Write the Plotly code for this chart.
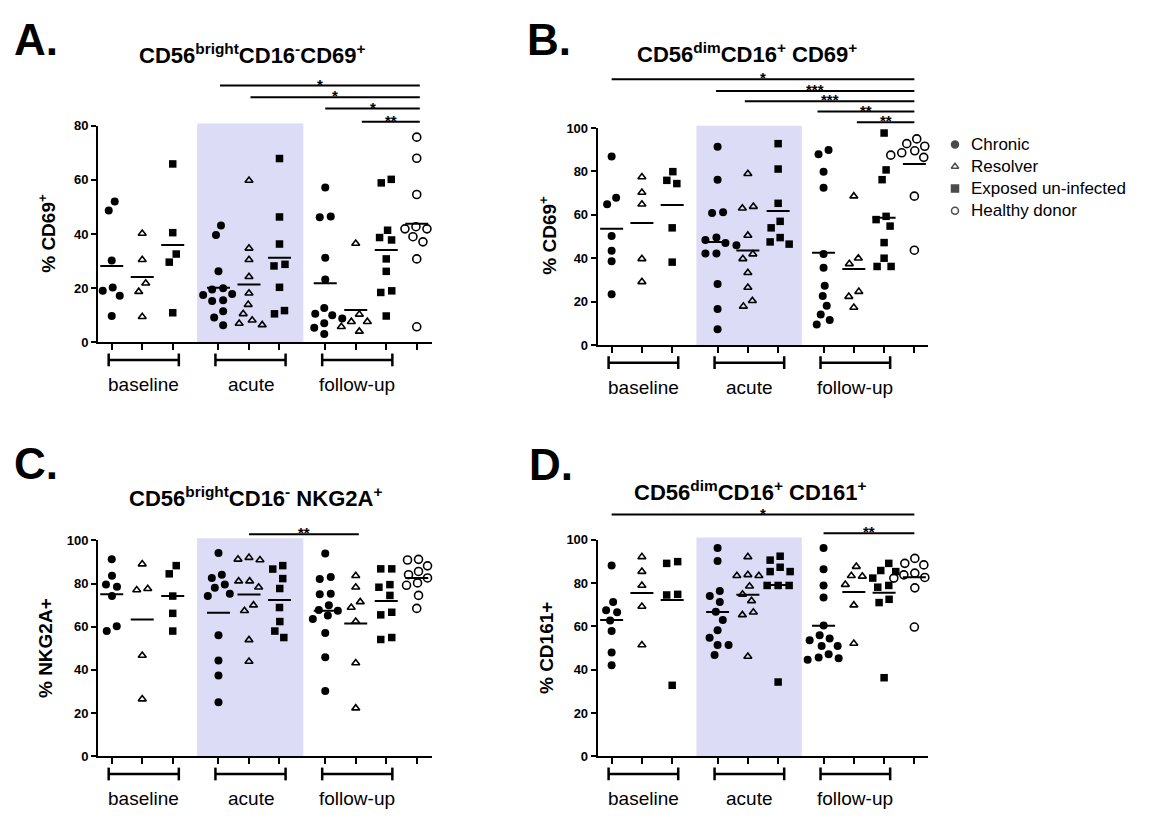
import plotly.graph_objects as go

W, H = 1156, 819

# ---------------- data ----------------
POSITIONS = [0, 1, 2, 3.5, 4.5, 5.5, 7, 8, 9, 10]
GROUP_SERIES = ["Chronic", "Resolver", "Exposed un-infected"] * 3 + ["Healthy donor"]
TIMEPOINTS = ["baseline", "acute", "follow-up"]
SERIES = ["Chronic", "Resolver", "Exposed un-infected", "Healthy donor"]

A_CD69_BRIGHT = [
    [52.0, 48.7, 30.2, 20.2, 19.0, 17.2, 9.7],
    [40.2, 30.5, 21.8, 18.7, 9.4],
    [65.9, 40.5, 32.6, 29.6, 10.9],
    [43.1, 39.6, 26.2, 20.0, 19.5, 17.8, 17.5, 15.5, 15.2, 11.5, 9.1, 6.3],
    [59.8, 34.7, 30.5, 24.2, 18.1, 13.9, 10.5, 8.1, 6.9, 6.4],
    [67.9, 46.3, 36.3, 28.8, 28.2, 20.3, 11.7, 10.5],
    [57.2, 46.5, 46.2, 31.2, 23.2, 12.7, 10.5, 10.0, 8.8, 7.0, 5.4, 3.0],
    [36.5, 10.3, 7.6, 7.6, 5.7, 4.0],
    [60.2, 58.9, 41.4, 38.7, 37.8, 30.8, 26.2, 19.0, 18.4, 9.7],
    [75.8, 68.0, 54.6, 42.7, 41.9, 41.9, 39.0, 37.1, 30.8, 5.7],
]
B_CD69_DIM = [
    [86.9, 67.9, 64.9, 50.2, 43.4, 38.6, 23.4],
    [77.4, 70.3, 64.9, 39.7, 29.1],
    [79.9, 75.9, 74.4, 54.0, 38.2],
    [91.4, 76.2, 61.2, 60.8, 49.5, 48.4, 47.0, 46.0, 42.2, 42.2, 28.1, 16.6, 7.2],
    [78.9, 63.8, 63.0, 50.5, 41.9, 39.7, 33.3, 26.5, 20.4, 17.8],
    [92.8, 81.1, 65.3, 57.0, 54.0, 49.5, 47.5, 46.5],
    [89.9, 87.9, 79.9, 72.5, 41.9, 35.6, 27.3, 22.6, 18.1, 14.0, 11.5, 9.5],
    [68.6, 40.0, 37.4, 24.6, 22.3, 17.3],
    [97.7, 80.7, 76.2, 59.3, 57.8, 54.8, 47.2, 40.0, 36.2, 36.2],
    [95.0, 92.8, 91.6, 90.5, 89.5, 88.6, 87.5, 86.5, 68.6, 43.7],
]
C_NKG2A = [
    [91.2, 83.6, 79.5, 78.5, 74.2, 60.2, 58.0],
    [89.0, 77.6, 77.0, 46.7, 26.5],
    [88.3, 84.5, 74.2, 66.2, 58.0],
    [94.2, 84.1, 82.6, 79.5, 78.0, 75.3, 74.2, 56.1, 44.4, 37.4, 25.0],
    [92.0, 91.2, 90.9, 81.1, 81.1, 78.3, 70.0, 67.4, 53.9, 43.9],
    [88.3, 86.7, 82.3, 77.7, 68.9, 62.4, 58.0, 55.0],
    [93.9, 83.0, 82.1, 75.3, 75.0, 70.0, 67.7, 67.4, 65.2, 63.6, 57.1, 45.9, 30.3],
    [83.6, 78.3, 71.5, 68.9, 62.4, 43.2, 22.3],
    [86.8, 86.8, 79.5, 78.3, 74.5, 66.7, 65.5, 55.0, 54.1],
    [91.2, 90.9, 88.2, 85.6, 84.1, 82.6, 80.3, 79.2, 74.5, 68.5],
]
D_CD161 = [
    [88.1, 71.3, 67.5, 66.5, 62.7, 57.9, 47.9, 42.0],
    [92.1, 85.3, 78.9, 69.2, 51.4],
    [89.9, 89.1, 74.8, 74.5, 32.8],
    [96.2, 90.2, 76.3, 74.0, 71.3, 66.8, 63.0, 58.2, 54.7, 51.4, 51.4, 46.8],
    [92.1, 83.8, 83.4, 83.4, 78.5, 74.8, 71.8, 66.5, 65.3, 46.1],
    [92.4, 90.6, 87.3, 85.3, 85.3, 78.9, 78.9, 78.9, 34.3],
    [96.2, 86.4, 78.9, 73.3, 60.4, 55.9, 54.4, 53.6, 50.9, 50.9, 47.1, 45.6, 45.3, 44.6],
    [87.6, 83.4, 83.1, 79.3, 69.8, 52.1],
    [89.1, 85.8, 85.3, 82.3, 78.9, 78.1, 72.5, 71.0, 36.3],
    [91.4, 89.1, 88.4, 86.9, 84.6, 83.8, 82.6, 82.3, 77.8, 59.7],
]

# ---------------- styles ----------------
FONT = "Liberation Sans, Arial, sans-serif"
STYLE = {
    "Chronic": dict(symbol="circle", size=8, color="black", line=dict(width=0)),
    "Resolver": dict(symbol="triangle-up-open", size=7, color="black", line=dict(width=1.6, color="black")),
    "Exposed un-infected": dict(symbol="square", size=7.5, color="black", line=dict(width=0)),
    "Healthy donor": dict(symbol="circle-open", size=8, color="black", line=dict(width=1.6, color="black")),
}
SHADE = "#dcdcf6"

PANELS = [
    dict(label="A.", data=A_CD69_BRIGHT, xpx=(98, 432), xr=(-0.45, 10.5), ypx=(341.5, 121), yr=(0, 80),
         ticks=[0, 20, 40, 60, 80], title="<b>CD56<sup>bright</sup>CD16<sup>-</sup>CD69<sup>+</sup></b>",
         title_pos=(252, 48), label_pos=(36, 33), ytitle="<b>% CD69<sup>+</sup></b>", ytitle_pos=(47, 231),
         sig=[(3.55, 10.1, 80, "*"), (4.55, 10.1, 92, "*"), (7.0, 10.1, 103.5, "*"), (8.2, 10.1, 117, "**")]),
    dict(label="B.", data=B_CD69_DIM, xpx=(597.7, 928.3), xr=(-0.46, 10.46), ypx=(344.3, 123.3), yr=(0, 100),
         ticks=[0, 20, 40, 60, 80, 100], title="<b>CD56<sup>dim</sup>CD16<sup>+</sup> CD69<sup>+</sup></b>",
         title_pos=(747, 47), label_pos=(549, 33), ytitle="<b>% CD69<sup>+</sup></b>", ytitle_pos=(548, 233),
         sig=[(0.0, 10.0, 73.5, "*"), (3.45, 10.0, 85.5, "***"), (4.4, 10.0, 96, "***"),
              (6.8, 10.0, 106.5, "**"), (8.1, 10.0, 117.5, "**")]),
    dict(label="C.", data=C_NKG2A, xpx=(98, 432), xr=(-0.45, 10.5), ypx=(763.3, 543.3), yr=(0, 100),
         ticks=[0, 20, 40, 60, 80, 100], title="<b>CD56<sup>bright</sup>CD16<sup>-</sup> NKG2A<sup>+</sup></b>",
         title_pos=(255, 499), label_pos=(36, 465), ytitle="<b>% NKG2A+</b>", ytitle_pos=(45, 653),
         sig=[(4.5, 8.1, 537, "**")]),
    dict(label="D.", data=D_CD161, xpx=(597.7, 928.3), xr=(-0.46, 10.46), ypx=(763.3, 542.7), yr=(0, 100),
         ticks=[0, 20, 40, 60, 80, 100], title="<b>CD56<sup>dim</sup>CD16<sup>+</sup> CD161<sup>+</sup></b>",
         title_pos=(750, 493), label_pos=(551, 466), ytitle="<b>% CD161+</b>", ytitle_pos=(546, 653),
         sig=[(0.0, 10.0, 517, "*"), (7.0, 10.0, 536, "**")]),
]


def swarm(values, ppy, ppx, d=10.5, step=1.0):
    """Greedy beeswarm in pixel space, returns offsets in x data units."""
    order = sorted(range(len(values)), key=lambda i: -values[i])
    placed = {}
    cands = [0.0]
    for j in range(1, 60):
        cands += [-j * step, j * step]
    for i in order:
        y = values[i] * ppy
        for c in cands:
            if all((c - px) ** 2 + (y - py) ** 2 >= d * d for px, py in placed.values()):
                break
        placed[i] = (c, y)
    chain, chains, last = [], [], None
    for i in order:
        y = placed[i][1]
        if last is not None and last - y >= d:
            chains.append(chain)
            chain = []
        chain.append(i)
        last = y
    chains.append(chain)
    out = [0.0] * len(values)
    for ch in chains:
        m = sum(placed[i][0] for i in ch) / len(ch)
        for i in ch:
            out[i] = (placed[i][0] - m) / ppx
    return out


def px2x(p):
    return p / W


def py2y(p):
    return 1 - p / H


fig = go.Figure()
annotations, shapes = [], []
for k, P in enumerate(PANELS, start=1):
    xa, ya = (f"x{k}", f"y{k}") if k > 1 else ("x", "y")
    xaxis_name, yaxis_name = (f"xaxis{k}", f"yaxis{k}") if k > 1 else ("xaxis", "yaxis")
    ppx = (P["xpx"][1] - P["xpx"][0]) / (P["xr"][1] - P["xr"][0])
    ppy = (P["ypx"][0] - P["ypx"][1]) / (P["yr"][1] - P["yr"][0])

    for s in SERIES:
        xs, ys, mx, my = [], [], [], []
        for g, vals in enumerate(P["data"]):
            if GROUP_SERIES[g] != s:
                continue
            offs = swarm(vals, ppy, ppx)
            xs += [POSITIONS[g] + o for o in offs]
            ys += vals
            mean = sum(vals) / len(vals)
            hw = 11.5 / ppx
            mx += [POSITIONS[g] - hw, POSITIONS[g] + hw, None]
            my += [mean, mean, None]
        fig.add_trace(go.Scatter(x=mx, y=my, mode="lines", xaxis=xa, yaxis=ya,
                                 line=dict(color="black", width=2), showlegend=False,
                                 hoverinfo="skip", cliponaxis=False))
        st = STYLE[s]
        fig.add_trace(go.Scatter(x=xs, y=ys, mode="markers", xaxis=xa, yaxis=ya, name=s,
                                 marker=dict(symbol=st["symbol"], size=st["size"], color=st["color"],
                                             line=st["line"]),
                                 showlegend=False, cliponaxis=False))

    fig.layout[xaxis_name] = dict(domain=[px2x(P["xpx"][0]), px2x(P["xpx"][1])], range=list(P["xr"]),
                                  showline=True, linewidth=2, linecolor="black", showgrid=False,
                                  zeroline=False, ticks="outside", ticklen=6, tickwidth=2, tickcolor="black",
                                  tickvals=POSITIONS, showticklabels=False, anchor=ya, fixedrange=True)
    fig.layout[yaxis_name] = dict(domain=[py2y(P["ypx"][0]), py2y(P["ypx"][1])], range=list(P["yr"]),
                                  showline=True, linewidth=2, linecolor="black", showgrid=False,
                                  zeroline=False, ticks="outside", ticklen=5, tickwidth=2, tickcolor="black",
                                  tickvals=P["ticks"], ticktext=[f"<b>{t}</b>" for t in P["ticks"]],
                                  tickfont=dict(family=FONT, size=13, color="black"), anchor=xa,
                                  fixedrange=True)

    shapes.append(dict(type="rect", xref=xa, yref=f"{ya} domain", x0=2.8, x1=6.28, y0=0, y1=1.01,
                       fillcolor=SHADE, line=dict(width=0), layer="below"))

    yb = P["ypx"][0] + 18
    for t, name in enumerate(TIMEPOINTS):
        x0, x1 = POSITIONS[3 * t] - 0.1, POSITIONS[3 * t + 2] + 0.2
        shapes.append(dict(type="line", xref=xa, yref="paper", x0=x0, x1=x1, y0=py2y(yb), y1=py2y(yb),
                           line=dict(color="black", width=2.5)))
        for xx in (x0, x1):
            shapes.append(dict(type="line", xref=xa, yref="paper", x0=xx, x1=xx, y0=py2y(yb - 6.5),
                               y1=py2y(yb + 6.5), line=dict(color="black", width=2.5)))
        annotations.append(dict(xref=xa, yref="paper", x=(x0 + x1) / 2, y=py2y(yb + 25), text=name,
                                showarrow=False, font=dict(family=FONT, size=19, color="black"),
                                xanchor="center", yanchor="middle"))

    for x0, x1, ypix, star in P["sig"]:
        shapes.append(dict(type="line", xref=xa, yref="paper", x0=x0, x1=x1, y0=py2y(ypix), y1=py2y(ypix),
                           line=dict(color="black", width=2)))
        annotations.append(dict(xref=xa, yref="paper", x=(x0 + x1) / 2, y=py2y(ypix - 1.5),
                                text=f"<b>{star}</b>", showarrow=False,
                                font=dict(family=FONT, size=15, color="black"),
                                xanchor="center", yanchor="middle"))

    annotations.append(dict(xref="paper", yref="paper", x=px2x(P["title_pos"][0]), y=py2y(P["title_pos"][1]),
                            text=P["title"], showarrow=False, xanchor="center", yanchor="middle",
                            font=dict(family=FONT, size=22, color="black")))
    annotations.append(dict(xref="paper", yref="paper", x=px2x(P["label_pos"][0]), y=py2y(P["label_pos"][1]),
                            text=f"<b>{P['label']}</b>", showarrow=False, xanchor="center", yanchor="middle",
                            font=dict(family=FONT, size=44, color="black")))
    annotations.append(dict(xref="paper", yref="paper", x=px2x(P["ytitle_pos"][0]), y=py2y(P["ytitle_pos"][1]),
                            text=P["ytitle"], showarrow=False, xanchor="center", yanchor="middle",
                            textangle=-90, font=dict(family=FONT, size=19, color="black")))

# ---------------- legend (manual) ----------------
LEG_Y = [140, 162.5, 185, 207.5]
fig.add_trace(go.Scatter(
    x=[0] * 4, y=[0, 1, 2, 3], mode="markers", xaxis="x5", yaxis="y5", showlegend=False, hoverinfo="skip",
    marker=dict(symbol=[STYLE[s]["symbol"] for s in SERIES], size=[7, 6.5, 7, 7], color="black",
                line=dict(width=1.5, color="black")), cliponaxis=False))
fig.layout["xaxis5"] = dict(domain=[px2x(945), px2x(965)], range=[-1, 1], visible=False, fixedrange=True)
fig.layout["yaxis5"] = dict(domain=[py2y(LEG_Y[3]), py2y(LEG_Y[0])], range=[3, 0], visible=False,
                            fixedrange=True, anchor="x5")
for s, yy in zip(SERIES, LEG_Y):
    annotations.append(dict(xref="paper", yref="paper", x=px2x(969), y=py2y(yy), text=s, showarrow=False,
                            xanchor="left", yanchor="middle", font=dict(family=FONT, size=17, color="black")))

fig.update_layout(width=W, height=H, margin=dict(l=0, r=0, t=0, b=0), paper_bgcolor="white",
                  plot_bgcolor="rgba(0,0,0,0)", showlegend=False, annotations=annotations, shapes=shapes)
fig.write_html("out.html")
